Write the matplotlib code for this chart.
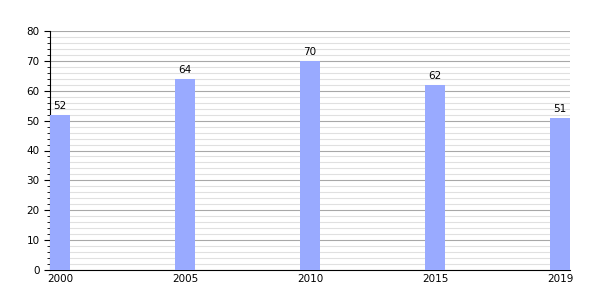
import matplotlib.pyplot as plt
import numpy as np

years = ["2000", "2005", "2010", "2015", "2019"]
values = [52, 64, 70, 62, 51]

fig = plt.figure(figsize=(6, 3), dpi=100)
ax = fig.add_axes([50/600, 30/300, 520/600, 239/300])

x = np.arange(len(years))
ax.bar(x, values, width=0.16, color="#99aaff", zorder=3)
for xi, v in zip(x, values):
    ax.text(xi, v + 1.2, str(v), ha="center", va="bottom", fontsize=7.5)

ax.set_xlim(-0.08, 4.08)
ax.set_ylim(0, 80)
ax.set_xticks(x)
ax.set_xticklabels(years, fontsize=7.5)
ax.set_yticks(np.arange(0, 81, 10))
ax.set_yticks(np.arange(0, 81, 2), minor=True)
ax.tick_params(axis="y", labelsize=7.5, length=4, direction="out")
ax.tick_params(axis="y", which="minor", length=2)
ax.tick_params(axis="x", length=0, pad=3)

ax.grid(axis="y", which="major", color="#a8a8a8", linewidth=0.8, zorder=0)
ax.grid(axis="y", which="minor", color="#e0e0e0", linewidth=0.8, zorder=0)
ax.set_axisbelow(True)

ax.spines["top"].set_visible(False)
ax.spines["right"].set_visible(False)
ax.spines["left"].set_linewidth(0.8)
ax.spines["bottom"].set_linewidth(0.8)

plt.savefig("out.png", dpi=100)
